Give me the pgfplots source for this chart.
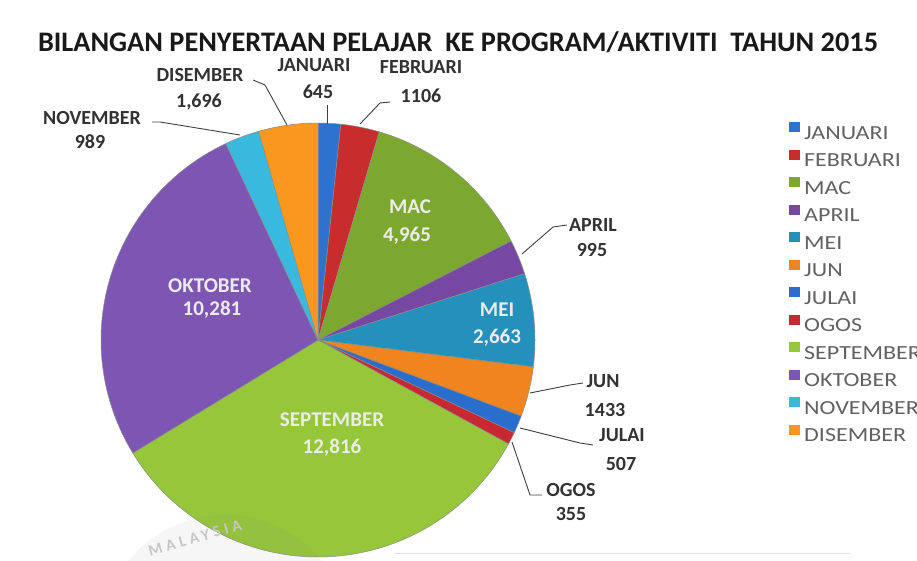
\documentclass[border=0pt]{standalone}
\usepackage{pgfplots}
\pgfplotsset{compat=1.18}
\usepackage{pgfplotstable}
\usepackage{fontspec}
\setmainfont{Carlito}
\newfontfamily\titlefont{Carlito}
\newfontfamily\lblfont{Carlito}
\newfontfamily\lgdfont[FakeStretch=1.2]{Carlito}
\newfontfamily\wmfont[LetterSpace=25]{Carlito}

\definecolor{cJan}{RGB}{45,115,205}
\definecolor{cFeb}{RGB}{200,45,45}
\definecolor{cMac}{RGB}{125,168,48}
\definecolor{cApr}{RGB}{118,72,162}
\definecolor{cMei}{RGB}{35,145,188}
\definecolor{cJun}{RGB}{240,132,30}
\definecolor{cJul}{RGB}{42,110,205}
\definecolor{cOgo}{RGB}{200,40,50}
\definecolor{cSep}{RGB}{150,198,58}
\definecolor{cOkt}{RGB}{125,86,180}
\definecolor{cNov}{RGB}{58,185,222}
\definecolor{cDis}{RGB}{250,152,30}
\definecolor{lbl}{RGB}{50,50,50}

\pgfplotstableread{
month value
JANUARI 645
FEBRUARI 1106
MAC 4965
APRIL 995
MEI 2663
JUN 1433
JULAI 507
OGOS 355
SEPTEMBER 12816
OKTOBER 10281
NOVEMBER 989
DISEMBER 1696
}\piedata

\def\cx{318}
\def\cy{340}
\def\R{217}

\newcommand\slice[3]{%
  \edef\temp{\noexpand\addplot[fill=#2, draw=black!45, line width=0.5pt,
    domain=\csname ang#1\endcsname:\csname ang\the\numexpr#1+1\relax\endcsname,
    samples=60, variable=\noexpand\t]
    ({\cx+\R*cos(\noexpand\t)},{\cy+\R*sin(\noexpand\t)}) -- (axis cs:\cx,\cy) -- cycle;}%
  \temp
  \addlegendentry{#3}%
}

\begin{document}
\begin{tikzpicture}
% cumulative angles from the table values
\def\total{0}%
\pgfplotsforeachungrouped \i in {0,...,11}{%
  \pgfplotstablegetelem{\i}{value}\of\piedata
  \edef\total{\fpeval{\total+\pgfplotsretval}}%
}%
\def\runsum{0}%
\expandafter\xdef\csname ang0\endcsname{-90}%
\pgfplotsforeachungrouped \i in {0,...,11}{%
  \pgfplotstablegetelem{\i}{value}\of\piedata
  \edef\runsum{\fpeval{\runsum+\pgfplotsretval}}%
  \expandafter\xdef\csname ang\the\numexpr\i+1\relax\endcsname{\fpeval{-90+360*\runsum/\total}}%
}%
\path[use as bounding box] (0,0) rectangle (917pt,561pt);
\begin{axis}[
  at={(0,0)}, anchor=south west,
  scale only axis, width=917pt, height=561pt,
  xmin=0, xmax=917, ymin=0, ymax=561, y dir=reverse,
  hide axis, clip=false,
  legend image code/.code={\fill[#1,draw=none] (0pt,1.5pt) rectangle (10.5pt,11.5pt);},
  legend style={at={(axis cs:789,122)}, anchor=north west, draw=none, fill=none,
    font=\lgdfont\fontsize{20}{22}\selectfont, text=black!62,
    inner sep=0pt, row sep=6.8pt, column sep=2.5pt,
    cells={anchor=west, inner sep=0pt}},
]
\slice{0}{cJan}{JANUARI}
\slice{1}{cFeb}{FEBRUARI}
\slice{2}{cMac}{MAC}
\slice{3}{cApr}{APRIL}
\slice{4}{cMei}{MEI}
\slice{5}{cJun}{JUN}
\slice{6}{cJul}{JULAI}
\slice{7}{cOgo}{OGOS}
\slice{8}{cSep}{SEPTEMBER}
\slice{9}{cOkt}{OKTOBER}
\slice{10}{cNov}{NOVEMBER}
\slice{11}{cDis}{DISEMBER}

% watermark
\fill[gray, opacity=0.07] (axis cs:225,640) circle[radius=125pt];
\node[gray!45, rotate=16, inner sep=0pt, font=\wmfont\bfseries\fontsize{16}{18}\selectfont] at (axis cs:195,538) {MALAYSIA};
\draw[gray!25, line width=0.8pt] (axis cs:395,553) -- (axis cs:850,553);

% title
\node[inner sep=0pt, font=\titlefont\bfseries\fontsize{28.3}{30}\selectfont, text=black!90] at (axis cs:458,42)
  {BILANGAN PENYERTAAN PELAJAR\ \ KE PROGRAM/AKTIVITI\ \ TAHUN 2015};

% inner labels
\begin{scope}[every node/.style={text=white!92!black, inner sep=1pt, font=\lblfont\bfseries\fontsize{21}{22}\selectfont}]
\node at (axis cs:410,207) {MAC};
\node at (axis cs:407,236) {4,965};
\node at (axis cs:497,310) {MEI};
\node at (axis cs:497,338) {2,663};
\node at (axis cs:210,286) {OKTOBER};
\node at (axis cs:212,310) {10,281};
\node at (axis cs:332,420) {SEPTEMBER};
\node at (axis cs:332,448) {12,816};
\end{scope}

% outer labels
\begin{scope}[every node/.style={text=lbl, inner sep=1pt, font=\lblfont\bfseries\fontsize{20}{22}\selectfont}]
\node at (axis cs:314,65) {JANUARI};
\node at (axis cs:318,92) {645};
\node at (axis cs:421,67) {FEBRUARI};
\node at (axis cs:421,96) {1106};
\node at (axis cs:200,75) {DISEMBER};
\node at (axis cs:199,102) {1,696};
\node at (axis cs:92,118) {NOVEMBER};
\node at (axis cs:90,142) {989};
\node at (axis cs:593,225) {APRIL};
\node at (axis cs:592,250) {995};
\node at (axis cs:603,381) {JUN};
\node at (axis cs:605,410) {1433};
\node at (axis cs:622,435) {JULAI};
\node at (axis cs:621,464) {507};
\node at (axis cs:571,490) {OGOS};
\node at (axis cs:571,514) {355};
\end{scope}

% leader lines
\begin{scope}[black!75, line width=0.9pt]
\draw (axis cs:327,105) -- (axis cs:327,124);
\draw (axis cs:390,102) -- (axis cs:380,103) -- (axis cs:360,124);
\draw (axis cs:253,80) -- (axis cs:265,85) -- (axis cs:287,125);
\draw (axis cs:152,122) -- (axis cs:160,122) -- (axis cs:240,135);
\draw (axis cs:567,225) -- (axis cs:553,227) -- (axis cs:522,254);
\draw (axis cs:583,383) -- (axis cs:570,385) -- (axis cs:530,393);
\draw (axis cs:593,445) -- (axis cs:580,443) -- (axis cs:520,428);
\draw (axis cs:542,495) -- (axis cs:530,495) -- (axis cs:512,442);
\end{scope}
\end{axis}
\end{tikzpicture}
\end{document}
